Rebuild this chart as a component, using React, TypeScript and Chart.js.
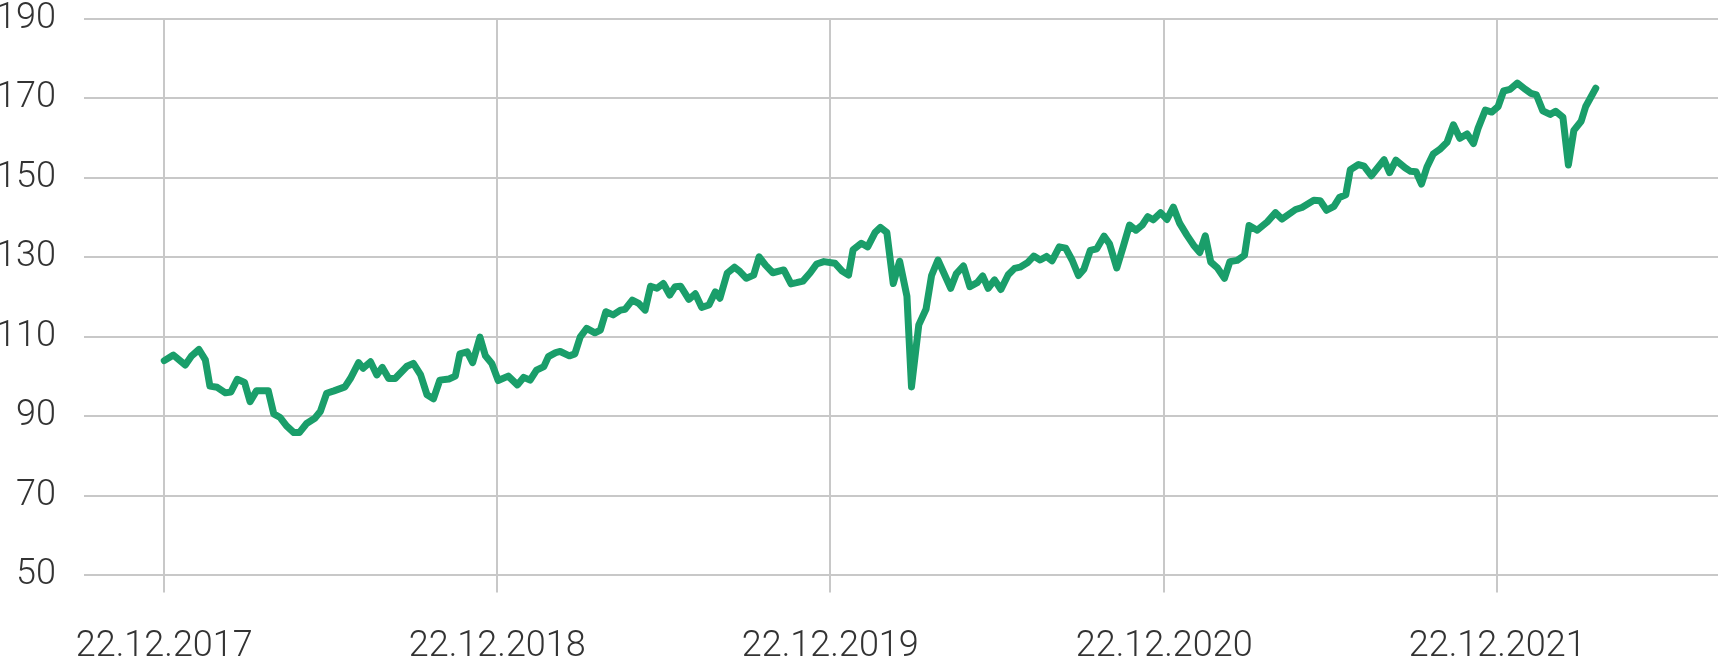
import React, { useEffect, useRef } from 'react';
import { Chart, registerables } from 'chart.js';

Chart.register(...registerables);

// Days elapsed since 22.12.2017
const dayOffsets = [
  0, 10, 23, 30, 38, 45, 50, 58, 67, 73, 80, 88, 94, 101, 114, 120, 127, 134, 142, 148,
  156, 165, 171, 178, 186, 198, 204, 213, 218, 226, 233, 239, 246, 253, 266, 273, 281, 288, 295, 302,
  312, 319, 324, 332, 338, 346, 352, 359, 366, 377, 387, 394, 401, 408, 416, 421, 429, 434, 444, 450,
  456, 463, 472, 478, 484, 492, 500, 505, 513, 520, 527, 533, 540, 547, 554, 560, 566, 575, 582, 589,
  597, 604, 609, 617, 625, 631, 638, 646, 652, 659, 667, 679, 687, 693, 700, 708, 715, 723, 735, 743,
  750, 755, 764, 771, 779, 785, 792, 799, 806, 814, 819, 827, 835, 841, 848, 862, 868, 876, 883, 891,
  897, 903, 910, 917, 925, 932, 938, 946, 953, 960, 967, 973, 981, 988, 995, 1002, 1008, 1015, 1022, 1030,
  1036, 1044, 1051, 1058, 1065, 1072, 1078, 1084, 1092, 1099, 1106, 1113, 1121, 1128, 1135, 1141, 1147, 1154, 1162, 1168,
  1176, 1184, 1189, 1198, 1209, 1218, 1225, 1240, 1247, 1260, 1267, 1274, 1282, 1288, 1295, 1300, 1309, 1315, 1323, 1337,
  1343, 1350, 1360, 1366, 1372, 1378, 1384, 1391, 1398, 1406, 1413, 1420, 1428, 1435, 1440, 1448, 1455, 1462, 1468, 1475,
  1483, 1492, 1498, 1504, 1511, 1519, 1525, 1533, 1539, 1545, 1553, 1558, 1569,
];

const indexValues = [
  104.0, 105.4, 102.9, 105.2, 106.8, 104.2, 97.6, 97.3, 95.9, 96.1, 99.3, 98.5, 93.7, 96.4, 96.4, 90.6, 89.7, 87.6, 85.9, 85.9,
  88.2, 89.5, 91.2, 95.8, 96.4, 97.4, 99.5, 103.5, 102.1, 103.7, 100.4, 102.3, 99.5, 99.5, 102.6, 103.3, 100.4, 95.4, 94.4, 99.1,
  99.4, 100.1, 105.7, 106.2, 103.5, 109.9, 105.2, 103.3, 99.0, 100.1, 97.9, 99.8, 99.1, 101.6, 102.5, 105.0, 106.0, 106.3, 105.2, 105.7,
  110.0, 112.1, 111.0, 111.7, 116.3, 115.5, 116.7, 116.9, 119.2, 118.4, 116.7, 122.7, 122.2, 123.4, 120.5, 122.6, 122.7, 119.4, 120.8, 117.4,
  118.0, 121.3, 119.7, 126.0, 127.5, 126.4, 124.7, 125.5, 130.1, 128.0, 126.1, 126.8, 123.3, 123.6, 124.0, 126.1, 128.3, 128.9, 128.5, 126.5,
  125.5, 131.9, 133.5, 132.6, 136.2, 137.5, 136.2, 123.4, 129.0, 120.2, 97.4, 113.0, 117.0, 125.4, 129.3, 122.2, 125.8, 127.8, 122.6, 123.6,
  125.3, 122.2, 124.3, 121.9, 125.6, 127.2, 127.5, 128.6, 130.3, 129.3, 130.2, 129.1, 132.6, 132.3, 129.3, 125.4, 127.0, 131.7, 132.1, 135.3,
  133.4, 127.3, 132.6, 138.1, 136.8, 138.1, 140.2, 139.4, 141.2, 139.5, 142.6, 138.5, 135.5, 133.1, 131.2, 135.4, 128.8, 127.4, 124.7, 128.9,
  129.2, 130.5, 138.0, 136.8, 138.9, 141.2, 139.6, 142.0, 142.5, 144.3, 144.2, 141.8, 142.8, 145.0, 145.7, 152.0, 153.3, 152.9, 150.5, 154.5,
  151.3, 154.4, 152.5, 151.6, 151.5, 148.4, 152.7, 156.0, 157.1, 158.9, 163.3, 159.9, 161.0, 158.6, 162.4, 167.0, 166.5, 167.9, 171.8, 172.2,
  173.8, 172.2, 171.2, 170.8, 166.8, 165.9, 166.7, 165.2, 153.2, 161.9, 164.2, 167.9, 172.5,
];

const tickDays = [0, 365, 730, 1096, 1461];
const tickLabels = ['22.12.2017', '22.12.2018', '22.12.2019', '22.12.2020', '22.12.2021'];
const yTickValues = [50, 70, 90, 110, 130, 150, 170, 190];

const FONT = 'Roboto, "Noto Sans", sans-serif';

export default function App() {
  const ref = useRef<HTMLCanvasElement>(null);

  useEffect(() => {
    document.body.style.margin = '0';
    const canvas = ref.current;
    if (!canvas) return;
    const chart = new Chart(canvas, {
      type: 'line',
      data: {
        datasets: [
          {
            data: dayOffsets.map((d, i) => ({ x: d, y: indexValues[i] })),
            borderColor: '#1a9e6a',
            borderWidth: 7,
            pointRadius: 0,
            tension: 0,
            fill: false,
            borderJoinStyle: 'round',
            borderCapStyle: 'round',
            clip: false,
          },
        ],
      },
      options: {
        responsive: false,
        animation: false,
        devicePixelRatio: 1,
        layout: { autoPadding: false, padding: { top: 18.6, left: 0, right: 0, bottom: 0 } },
        plugins: { legend: { display: false }, tooltip: { enabled: false } },
        scales: {
          x: {
            type: 'linear',
            min: -88,
            max: 1703,
            afterBuildTicks: (s: any) => {
              s.ticks = tickDays.map((v) => ({ value: v }));
            },
            afterFit: (s: any) => {
              s.height = 82.6;
              s.paddingLeft = 0;
              s.paddingRight = 0;
            },
            grid: { color: '#c8c8c8', lineWidth: 2, drawTicks: true, tickLength: 17 },
            border: { display: false },
            ticks: {
              autoSkip: false,
              maxRotation: 0,
              padding: 34,
              color: '#333333',
              font: { family: FONT, size: 36, weight: '300', lineHeight: 1.13 },
              callback: (v: any) => {
                const i = tickDays.indexOf(Number(v));
                return i >= 0 ? tickLabels[i] : '';
              },
            },
          },
          y: {
            min: 50,
            max: 190,
            afterBuildTicks: (s: any) => {
              s.ticks = yTickValues.map((v) => ({ value: v }));
            },
            afterFit: (s: any) => {
              s.width = 84;
              s.paddingTop = 0;
              s.paddingBottom = 0;
            },
            grid: { color: '#c8c8c8', lineWidth: 2, drawTicks: false },
            border: { display: false },
            ticks: {
              padding: 28,
              color: '#333333',
              font: { family: FONT, size: 36, weight: '300', lineHeight: 1.13 },
            },
          },
        },
      },
    });
    return () => chart.destroy();
  }, []);

  return (
    <div style={{ position: 'absolute', left: 0, top: 0, width: 1718, height: 658 }}>
      <canvas ref={ref} width={1718} height={658} style={{ display: 'block', width: 1718, height: 658 }} />
    </div>
  );
}
